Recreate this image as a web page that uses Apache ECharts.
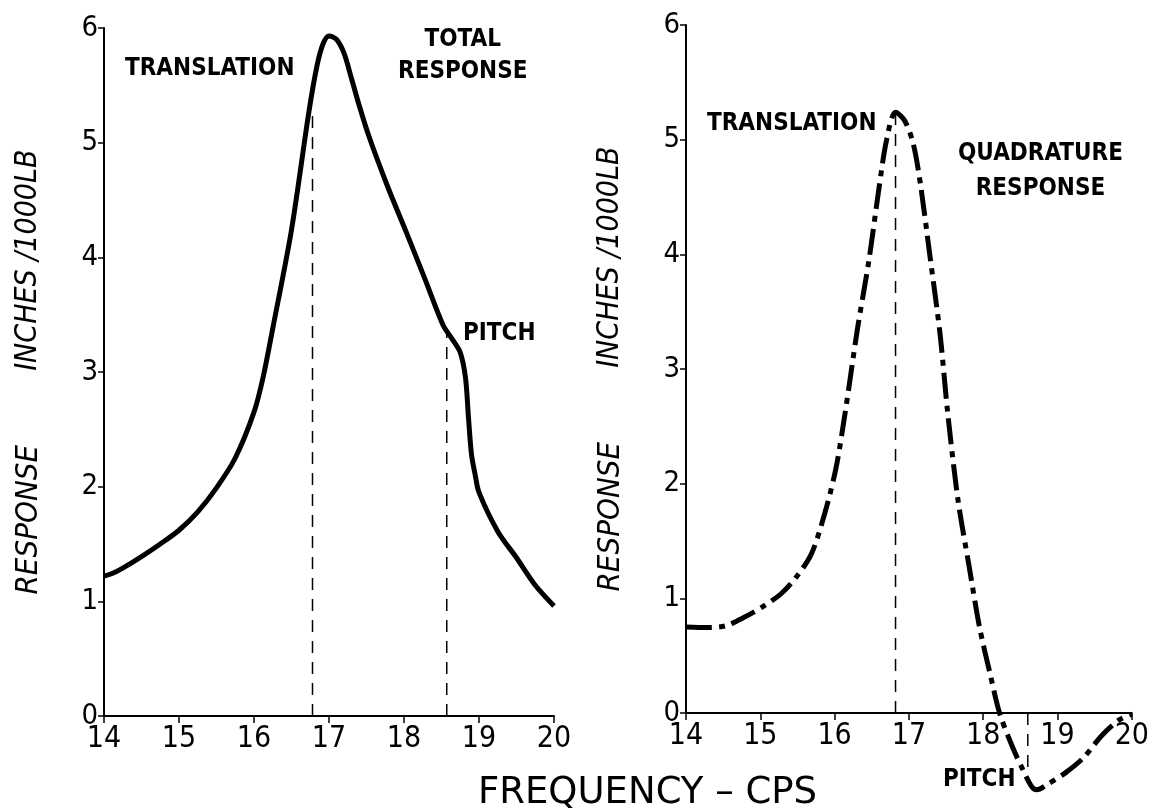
<!DOCTYPE html>
<html>
<head>
<meta charset="utf-8">
<title>Response vs frequency</title>
<script src="https://cdn.jsdelivr.net/npm/echarts@6/dist/echarts.min.js"></script>
<style>
  html,body{margin:0;padding:0;width:100%;height:100%;background:#fff;}
  #chart{width:1152px;height:812px;}
</style>
</head>
<body>
<div id="chart"></div>
<script>
// left panel: total response
var totalFreq = [14, 14.1, 14.25, 14.5, 14.75, 15, 15.25, 15.5, 15.75, 16, 16.12, 16.25, 16.5, 16.73, 16.84, 16.92, 17.0, 17.1, 17.2, 17.3, 17.4, 17.53, 17.78, 18.03, 18.28, 18.52, 18.65, 18.75, 18.82, 18.86, 18.9, 18.95, 19.0, 19.25, 19.5, 19.75, 20];
var totalResp = [1.22, 1.24, 1.29, 1.39, 1.50, 1.62, 1.78, 1.99, 2.25, 2.65, 2.95, 3.38, 4.24, 5.26, 5.67, 5.86, 5.93, 5.90, 5.78, 5.56, 5.33, 5.06, 4.62, 4.22, 3.81, 3.41, 3.28, 3.17, 2.95, 2.6, 2.28, 2.1, 1.95, 1.61, 1.38, 1.14, 0.96];
var totalMarkFreq = [16.78, 18.57];
var totalMarkTop = [5.26, 3.35];

// right panel: quadrature response
var quadFreq = [14, 14.29, 14.53, 14.77, 15.04, 15.28, 15.49, 15.69, 15.88, 16.02, 16.14, 16.31, 16.46, 16.6, 16.7, 16.82, 16.94, 17.06, 17.16, 17.28, 17.42, 17.52, 17.66, 17.81, 17.95, 18.1, 18.22, 18.39, 18.53, 18.65, 18.72, 18.87, 19.11, 19.35, 19.59, 19.83, 20];
var quadResp = [0.75, 0.745, 0.76, 0.83, 0.93, 1.04, 1.19, 1.39, 1.77, 2.14, 2.61, 3.36, 3.94, 4.59, 5.0, 5.24, 5.17, 4.96, 4.59, 4.0, 3.30, 2.63, 1.86, 1.28, 0.75, 0.32, 0.0, -0.29, -0.49, -0.64, -0.67, -0.62, -0.52, -0.39, -0.2, -0.06, -0.01];
var quadMarkFreq = [16.82, 18.6];
var quadMarkTop = [5.22, -0.62];

var FREQ_MIN = 14, FREQ_MAX = 20;
var RESP_MIN = 0, RESP_MAX = 6;

var narrowFont = '"Liberation Sans Narrow", "DejaVu Sans Condensed", "Roboto Condensed", "Liberation Sans", sans-serif';

function pairs(xs, ys) {
  var out = [];
  for (var i = 0; i < xs.length; i++) out.push([xs[i], ys[i]]);
  return out;
}

function xAxisFor(idx) {
  return {
    gridIndex: idx, type: 'value', min: FREQ_MIN, max: FREQ_MAX, interval: 1,
    axisLine: {show: true, onZero: false, lineStyle: {color: '#000', width: 2}},
    axisTick: {show: true, inside: false, length: 7, lineStyle: {color: '#000', width: 1.5}},
    axisLabel: {color: '#000', fontFamily: narrowFont, fontSize: 30, margin: 8},
    splitLine: {show: false}
  };
}

function yAxisFor(idx) {
  return {
    gridIndex: idx, type: 'value', min: RESP_MIN, max: RESP_MAX, interval: 1,
    axisLine: {show: true, lineStyle: {color: '#000', width: 2}},
    axisTick: {show: true, inside: false, length: 6, lineStyle: {color: '#000', width: 1.5}},
    axisLabel: {color: '#000', fontFamily: narrowFont, fontSize: 29, margin: 6},
    splitLine: {show: false},
    name: '{a|RESPONSE}{gap|}{b|INCHES /1000LB}',
    nameLocation: 'middle',
    nameRotate: 90,
    nameGap: 60,
    nameTextStyle: {
      color: '#000',
      rich: {
        a: {fontFamily: narrowFont, fontStyle: 'italic', fontSize: 31, color: '#000'},
        gap: {width: 74},
        b: {fontFamily: narrowFont, fontStyle: 'italic', fontSize: 30, color: '#000'}
      }
    }
  };
}

function guide(idx, x, top) {
  return {
    type: 'line', xAxisIndex: idx, yAxisIndex: idx, clip: false,
    data: [[x, 0], [x, top]], symbol: 'none', silent: true,
    lineStyle: {color: '#000', width: 1.5, type: [12, 9]}
  };
}

function note(text, left, top, align, lh) {
  return {
    type: 'text', left: left, top: top,
    style: {text: text, fill: '#000', font: 'bold 24px ' + narrowFont, textAlign: align || 'left', lineHeight: lh || 28}
  };
}

var series = [
  {
    name: 'Total response', type: 'line', xAxisIndex: 0, yAxisIndex: 0,
    data: pairs(totalFreq, totalResp), smooth: 0.3, symbol: 'none',
    lineStyle: {color: '#000', width: 5}
  },
  {
    name: 'Quadrature response', type: 'line', xAxisIndex: 1, yAxisIndex: 1, clip: false,
    data: pairs(quadFreq, quadResp), smooth: 0.3, symbol: 'none',
    lineStyle: {color: '#000', width: 5, type: [26, 7, 6, 7]}
  }
];
for (var i = 0; i < totalMarkFreq.length; i++) series.push(guide(0, totalMarkFreq[i], totalMarkTop[i]));
for (var j = 0; j < quadMarkFreq.length; j++) series.push(guide(1, quadMarkFreq[j], quadMarkTop[j]));

var chart = echarts.init(document.getElementById('chart'));
chart.setOption({
  backgroundColor: '#fff',
  animation: false,
  grid: [
    {left: 104, right: 598, top: 28, bottom: 96},
    {left: 686, right: 6, top: 25, bottom: 99}
  ],
  xAxis: [xAxisFor(0), xAxisFor(1)],
  yAxis: [yAxisFor(0), yAxisFor(1)],
  series: series,
  graphic: [
    note('TRANSLATION', 125, 55),
    note('TOTAL\nRESPONSE', 398, 24, 'center', 32),
    note('PITCH', 463, 320),
    note('TRANSLATION', 707, 110),
    note('QUADRATURE\nRESPONSE', 958, 136, 'center', 35),
    note('PITCH', 943, 766),
    {type: 'text', left: 478, top: 775, style: {text: 'FREQUENCY – CPS', fill: '#000', font: '37px "DejaVu Sans", sans-serif'}}
  ]
});
</script>
</body>
</html>
